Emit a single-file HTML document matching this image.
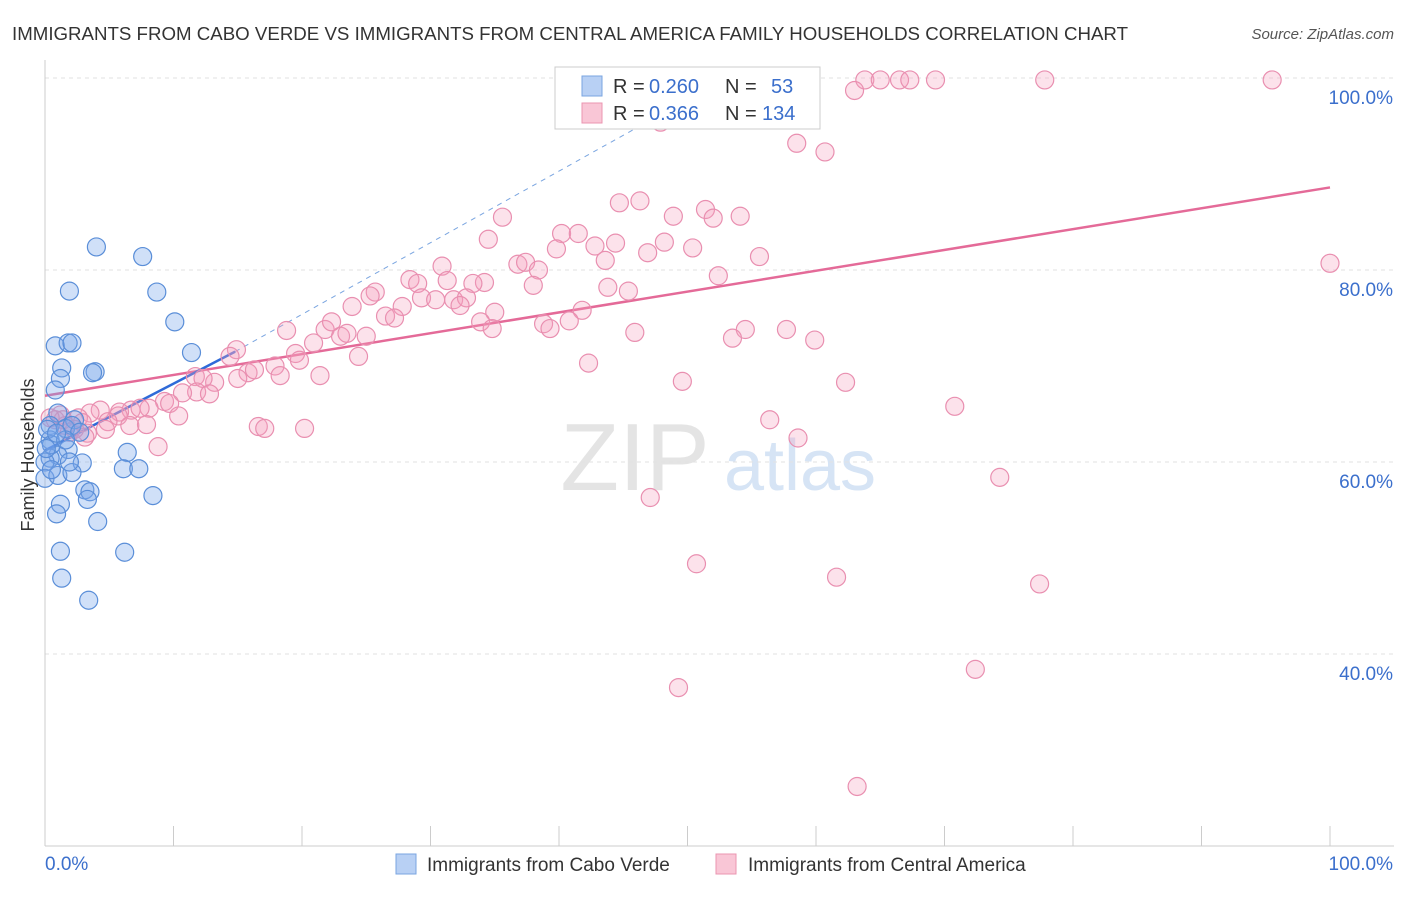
<!DOCTYPE html>
<html><head><meta charset="utf-8"><style>
body{margin:0;background:#fff;font-family:"Liberation Sans",sans-serif;}
svg text{font-family:"Liberation Sans",sans-serif;}
</style></head><body>
<svg id="chart" width="1406" height="892" xmlns="http://www.w3.org/2000/svg">
<text x="12" y="40" font-size="18" fill="#333" textLength="1116" lengthAdjust="spacingAndGlyphs">IMMIGRANTS FROM CABO VERDE VS IMMIGRANTS FROM CENTRAL AMERICA FAMILY HOUSEHOLDS CORRELATION CHART</text>
<text x="1394" y="39" font-size="15" fill="#555" text-anchor="end" font-style="italic">Source: ZipAtlas.com</text>
<text transform="translate(34,455) rotate(-90)" font-size="18" fill="#333" text-anchor="middle">Family Households</text>
<g>
<text x="635" y="490" font-size="96" fill="#e4e4e4" text-anchor="middle" font-family="Liberation Serif">ZIP</text>
<text x="800" y="490" font-size="72" fill="#d6e4f5" text-anchor="middle">atlas</text>
</g>
<g id="grid"></g><g id="axes"></g><g id="trend"></g><g id="pts"></g>
<g>
<rect x="555" y="67" width="265" height="62" fill="#fff" stroke="#ccc"/>
<rect x="582" y="76" width="20" height="20" fill="#b8d0f4" stroke="#7aa5e0"/>
<text x="613" y="93" font-size="20" fill="#333">R =</text>
<text x="649" y="93" font-size="20" fill="#3b6fcc">0.260</text>
<text x="725" y="93" font-size="20" fill="#333">N =</text>
<text x="771" y="93" font-size="20" fill="#3b6fcc">53</text>
<rect x="582" y="103" width="20" height="20" fill="#f9c6d6" stroke="#eb95b0"/>
<text x="613" y="120" font-size="20" fill="#333">R =</text>
<text x="649" y="120" font-size="20" fill="#3b6fcc">0.366</text>
<text x="725" y="120" font-size="20" fill="#333">N =</text>
<text x="762" y="120" font-size="20" fill="#3b6fcc">134</text>
</g>
<g>
<rect x="396" y="854" width="20" height="20" fill="#b8d0f4" stroke="#7aa5e0"/>
<text x="427" y="871" font-size="19" fill="#333">Immigrants from Cabo Verde</text>
<rect x="716" y="854" width="20" height="20" fill="#f9c6d6" stroke="#eb95b0"/>
<text x="748" y="871" font-size="19" fill="#333">Immigrants from Central America</text>
</g>
</svg>
<script>
const xTickValues=[0,10,20,30,40,50,60,70,80,90,100];
const yGridValues=[40,60,80,100];
const yTickLabels=["40.0%","60.0%","80.0%","100.0%"];
const blueData=[[4.0,82.4],[7.6,81.4],[1.9,77.8],[8.7,77.7],[10.1,74.6],[0.8,72.1],[1.8,72.4],[2.1,72.4],[11.4,71.4],[1.3,69.8],[3.9,69.4],[3.7,69.3],[1.2,68.7],[0.8,67.5],[1.0,65.1],[2.3,64.4],[0.4,63.8],[1.6,63.5],[2.1,63.8],[0.4,62.3],[1.8,61.3],[1.0,60.7],[0.4,60.4],[0,60.0],[2.9,59.9],[6.4,61.0],[6.1,59.3],[7.3,59.3],[0,58.3],[1.0,58.6],[2.1,58.9],[3.1,57.1],[3.5,56.9],[3.3,56.1],[8.4,56.5],[1.2,55.6],[0.9,54.6],[4.1,53.8],[1.2,50.7],[6.2,50.6],[1.3,47.9],[3.4,45.6],[0.2,63.4],[0.5,61.8],[0.1,61.4],[2.7,63.1],[1.6,62.3],[0.5,59.2],[0.9,63.0],[1.9,60.0]];
const pinkData=[[55.6,99.8],[63.8,99.8],[65.0,99.8],[66.5,99.8],[67.3,99.8],[69.3,99.8],[77.8,99.8],[95.5,99.8],[63.0,98.7],[58.5,93.2],[60.7,92.3],[47.9,95.4],[35.6,85.5],[44.7,87.0],[46.3,87.2],[48.9,85.6],[51.4,86.3],[52.0,85.4],[54.1,85.6],[34.5,83.2],[40.2,83.8],[41.5,83.8],[42.8,82.5],[44.4,82.8],[39.8,82.2],[46.9,81.8],[48.2,82.9],[50.4,82.3],[55.6,81.4],[43.6,81.0],[36.8,80.6],[37.4,80.8],[38.4,80.0],[30.9,80.4],[34.2,78.7],[38.0,78.4],[52.4,79.4],[28.4,79.0],[29.0,78.6],[31.3,78.9],[33.3,78.6],[43.8,78.2],[45.4,77.8],[100,80.7],[25.7,77.7],[25.3,77.3],[23.9,76.2],[27.8,76.2],[29.3,77.1],[30.4,76.9],[31.8,76.9],[32.8,77.1],[35.0,75.6],[32.3,76.3],[26.5,75.2],[27.2,75.0],[33.9,74.6],[34.8,73.9],[38.8,74.4],[41.8,75.8],[40.8,74.7],[39.3,73.9],[45.9,73.5],[54.5,73.8],[53.5,72.9],[57.7,73.8],[59.9,72.7],[18.8,73.7],[21.8,73.8],[23.0,73.1],[22.3,74.6],[23.5,73.4],[25.0,73.1],[20.9,72.4],[14.9,71.7],[19.5,71.3],[14.4,71.0],[19.8,70.6],[17.9,70.0],[24.4,71.0],[15.8,69.3],[16.3,69.6],[15.0,68.7],[18.3,69.0],[21.4,69.0],[11.7,68.9],[13.2,68.3],[12.3,68.7],[42.3,70.3],[49.6,68.4],[62.3,68.3],[11.8,67.3],[10.7,67.2],[12.8,67.1],[9.3,66.3],[9.7,66.1],[8.1,65.6],[6.7,65.4],[7.4,65.6],[5.8,65.2],[4.3,65.4],[3.5,65.1],[2.6,64.6],[1.2,64.9],[0.8,64.4],[10.4,64.8],[5.7,64.8],[4.9,64.2],[2.9,64.1],[1.6,63.8],[1.9,63.1],[3.3,63.0],[6.6,63.8],[7.9,63.9],[16.6,63.7],[17.1,63.5],[20.2,63.5],[4.7,63.4],[70.8,65.8],[56.4,64.4],[58.6,62.5],[8.8,61.6],[74.3,58.4],[47.1,56.3],[50.7,49.4],[61.6,48.0],[77.4,47.3],[72.4,38.4],[49.3,36.5],[63.2,26.2],[1.4,64.4],[2.3,63.4],[0.4,64.6],[3.1,62.6]];
const pinkTrend=[[0,66.9],[100,88.6]];
const blueTrendSolid=[[0,61.2],[14.8,71.5]];
const blueTrendDash=[[14.8,71.5],[53,100]];

const NS="http://www.w3.org/2000/svg";
const X=v=>45+v*12.85, Y=v=>1038-v*9.6;
function mk(tag,attrs,parent){const e=document.createElementNS(NS,tag);for(const k in attrs)e.setAttribute(k,attrs[k]);parent.appendChild(e);return e;}
const grid=document.getElementById('grid'),axes=document.getElementById('axes'),trend=document.getElementById('trend'),pts=document.getElementById('pts');
yGridValues.forEach((v,i)=>{
 const l=mk('line',{x1:45,x2:1394,y1:Y(v),y2:Y(v),stroke:'#e2e2e2','stroke-dasharray':'4,4'},grid);
 
 
 const t=mk('text',{x:1393,y:Y(v)+26,'font-size':19,fill:'#3b6fcc','text-anchor':'end'},grid);
 t.textContent=yTickLabels[i];
 
 
});
const ya=mk('line',{x1:45,x2:45,y1:60,y2:846,stroke:'#ccc'},axes);


const xa=mk('line',{x1:45,x2:1394,y1:846,y2:846,stroke:'#ccc'},axes);


xTickValues.forEach(v=>{
 const t=mk('line',{x1:X(v),x2:X(v),y1:826,y2:846,stroke:'#ccc'},axes);
 
 
});
[[0,'0.0%','start',45],[100,'100.0%','end',1393]].forEach(a=>{
 const t=mk('text',{x:a[3],y:870,'font-size':19,fill:'#3b6fcc','text-anchor':a[2]},axes);
 t.textContent=a[1];
 
 
});
function dots(data,fill,stroke,name){data.forEach(d=>{
 const c=mk('circle',{cx:X(d[0]),cy:Y(d[1]),r:9,fill:fill,stroke:stroke,'stroke-width':1.2},pts);
 
 
});}
dots(pinkData,'rgba(244,160,190,0.3)','#e98fb0','central-america-point');
dots(blueData,'rgba(120,165,235,0.35)','#5a8ed8','cabo-verde-point');
function line(p,stroke,w,dash,name){
 const l=mk('line',{x1:X(p[0][0]),y1:Y(p[0][1]),x2:X(p[1][0]),y2:Y(p[1][1]),stroke:stroke,'stroke-width':w},trend);
 if(dash)l.setAttribute('stroke-dasharray',dash);
 
 
}
line(blueTrendDash,'#7aa5e0',1,'5,5','cabo-verde-trend-extension');
line(pinkTrend,'#e46a98',2.5,null,'central-america-trend');
line(blueTrendSolid,'#2f6ad8',2.5,null,'cabo-verde-trend');
</script>
</body></html>
